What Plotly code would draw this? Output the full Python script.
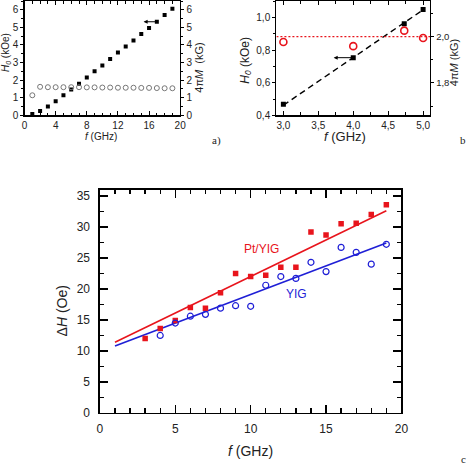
import plotly.graph_objects as go

# ---------------- data ----------------
# panel a
fa = list(range(1, 20))
H0_a = [0.08, 0.25, 0.5, 0.8, 1.14, 1.47, 1.8, 2.15, 2.5, 2.84, 3.2, 3.57, 3.92, 4.26, 4.62, 4.97, 5.32, 5.7, 6.06]
M_a = [1.14, 1.62, 1.6, 1.6, 1.6, 1.6, 1.6, 1.59, 1.59, 1.58, 1.58, 1.57, 1.57, 1.57, 1.56, 1.56, 1.55, 1.54, 1.54]

# panel b
fb = [3.0, 4.0, 4.73, 5.0]
H0_b = [0.468, 0.753, 0.96, 1.048]
M_b = [1.977, 1.959, 2.026, 1.994]
fit_fb = [3.0, 5.0]
fit_H0_b = [0.462, 1.046]
mean_fb = [2.9, 5.1]
mean_M_b = [2.0, 2.0]

# panel c
fc = list(range(3, 20))
dH_ptyig = [12.0, 13.6, 14.9, 17.0, 16.9, 19.4, 22.5, 22.0, 22.2, 23.5, 23.5, 29.2, 28.7, 30.5, 30.6, 32.0, 33.6]
fc_yig = list(range(4, 20))
dH_yig = [12.5, 14.5, 15.6, 15.9, 16.9, 17.3, 17.2, 20.6, 22.0, 21.7, 24.3, 22.8, 26.7, 25.9, 24.0, 27.2]
fit_fc = [1, 19]
fit_ptyig = [11.4, 32.6]
fit_yig = [10.8, 27.4]

W = H = 474
def px(x): return x / W
def py(y): return 1 - y / H

RED = "#e8141c"
BLUE = "#1f1fd6"
FONT = "Liberation Sans, Arial, sans-serif"

fig = go.Figure()

# panel a
fig.add_trace(go.Scatter(x=fa, y=H0_a, mode="markers", xaxis="x", yaxis="y",
                         marker=dict(symbol="square", size=4, color="black")))
fig.add_trace(go.Scatter(x=fa, y=M_a, mode="markers", xaxis="x", yaxis="y2",
                         marker=dict(symbol="circle-open", size=5, color="#777777", line=dict(width=1))))

# panel b
fig.add_trace(go.Scatter(x=fit_fb, y=fit_H0_b, mode="lines", xaxis="x3", yaxis="y3",
                         line=dict(color="black", width=1.4, dash="6px,4px")))
fig.add_trace(go.Scatter(x=mean_fb, y=mean_M_b, mode="lines", xaxis="x3", yaxis="y4",
                         line=dict(color=RED, width=1.3, dash="2px,2px")))
fig.add_trace(go.Scatter(x=fb, y=H0_b, mode="markers", xaxis="x3", yaxis="y3",
                         marker=dict(symbol="square", size=5, color="black")))
fig.add_trace(go.Scatter(x=fb, y=M_b, mode="markers", xaxis="x3", yaxis="y4",
                         marker=dict(symbol="circle-open", size=7, color=RED, line=dict(width=1.6))))

# panel c
fig.add_trace(go.Scatter(x=fit_fc, y=fit_ptyig, mode="lines", xaxis="x5", yaxis="y5",
                         line=dict(color=RED, width=1.6)))
fig.add_trace(go.Scatter(x=fit_fc, y=fit_yig, mode="lines", xaxis="x5", yaxis="y5",
                         line=dict(color=BLUE, width=1.6)))
fig.add_trace(go.Scatter(x=fc, y=dH_ptyig, mode="markers", xaxis="x5", yaxis="y5",
                         marker=dict(symbol="square", size=5.5, color=RED)))
fig.add_trace(go.Scatter(x=fc_yig, y=dH_yig, mode="markers", xaxis="x5", yaxis="y5",
                         marker=dict(symbol="circle-open", size=6, color=BLUE, line=dict(width=1.2))))

base = dict(showgrid=False, zeroline=False, showline=True, linecolor="black",
            tickcolor="black", color="black")

small = dict(size=10, family=FONT, color="#222")
smallb = dict(size=9.5, family=FONT, color="#222")

fig.update_layout(
    width=W, height=H, autosize=False, showlegend=False,
    margin=dict(l=0, r=0, t=0, b=0),
    paper_bgcolor="white", plot_bgcolor="white",
    separators=", ",
    hovermode=False,
    font=dict(family=FONT, color="black"),
    # panel a
    xaxis=dict(base, domain=[px(22), px(181)], range=[0, 20], anchor="y",
               dtick=4, ticks="inside", ticklen=4, mirror="ticks", linewidth=1.2,
               minor=dict(dtick=1, ticks="inside", ticklen=2.5, tickcolor="black"),
               tickfont=small),
    yaxis=dict(base, domain=[py(116.3), 1], range=[0, 6.5], anchor="x",
               dtick=1, ticks="outside", ticklen=3, linewidth=1.2,
               minor=dict(dtick=0.5, ticks="outside", ticklen=2, tickcolor="black"),
               tickfont=small),
    yaxis2=dict(base, overlaying="y", side="right", range=[0, 6.5], anchor="x",
                dtick=1, ticks="outside", ticklen=3, linewidth=1.2,
                minor=dict(dtick=0.5, ticks="outside", ticklen=2, tickcolor="black"),
                tickfont=small),
    # panel b
    xaxis3=dict(base, domain=[px(279.3), px(436.3)], range=[2.9, 5.1], anchor="y3",
                dtick=0.5, tick0=3, tickformat=".1f", ticks="inside", ticklen=4, mirror="ticks",
                linewidth=1.2,
                minor=dict(dtick=0.25, ticks="inside", ticklen=3, tickcolor="black"),
                tickfont=small),
    yaxis3=dict(base, domain=[py(116.3), 1], range=[0.4, 1.1], anchor="x3",
                dtick=0.2, tick0=0.4, tickformat=".1f", ticks="outside", ticklen=3, linewidth=1.2,
                minor=dict(dtick=0.1, ticks="outside", ticklen=2, tickcolor="black"),
                tickfont=small),
    yaxis4=dict(base, overlaying="y3", side="right", range=[1.66, 2.154], anchor="x3",
                dtick=0.2, tick0=1.8, tickformat=".1f", ticks="outside", ticklen=3, linewidth=1.2,
                minor=dict(dtick=0.1, ticks="outside", ticklen=2, tickcolor="black"),
                tickfont=smallb, ticklabelstandoff=0),
    # panel c
    xaxis5=dict(base, domain=[px(99), px(407)], range=[0, 20], anchor="y5",
                dtick=5, ticks="inside", ticklen=8, mirror="ticks", linewidth=1.5, tickwidth=1.3,
                minor=dict(dtick=1, ticks="inside", ticklen=4.5, tickcolor="black", tickwidth=1.3),
                tickfont=dict(size=12, family=FONT, color="#222"), ticklabelstandoff=4),
    yaxis5=dict(base, domain=[py(419), py(192)], range=[0, 36], anchor="x5",
                dtick=5, ticks="inside", ticklen=8, mirror="ticks", linewidth=1.5, tickwidth=1.3,
                minor=dict(dtick=2.5, ticks="inside", ticklen=4.5, tickcolor="black", tickwidth=1.3),
                tickfont=dict(size=12, family=FONT, color="#222"), ticklabelstandoff=6),
)

def ann(text, x, y, size=11, angle=0, color="#222", family=FONT, xanchor="center"):
    fig.add_annotation(text=text, x=px(x), y=py(y), xref="paper", yref="paper",
                       showarrow=False, textangle=angle, xanchor=xanchor, yanchor="middle",
                       font=dict(size=size, color=color, family=family))

SERIF = "Liberation Serif, Times New Roman, serif"
# panel a labels
ann("<i>H</i><sub><i>0</i></sub> (kOe)", 3, 52, size=10, angle=-90)
ann("4π<i>M</i>  (kG)", 200, 68, size=11, angle=-90)
ann("<i>f</i> (GHz)", 100.5, 137.5, size=10)
ann("a)", 218, 141.5, size=11, family=SERIF)
# panel b labels
ann("<i>H</i><sub><i>0</i></sub> (kOe)", 248, 60, size=12, angle=-90)
ann("4π<i>M</i> (kG)", 461, 63, size=11, angle=-90)
ann("<i>f</i> (GHz)", 349.5, 137.5, size=13)
ann("b", 470, 141, size=11, family=SERIF)
# panel c labels
ann("Δ<i>H</i> (Oe)", 60, 315, size=14, angle=-90)
ann("<i>f</i> (GHz)", 253, 458, size=14)
ann("Pt/YIG", 264, 252, size=12, color=RED)
ann("YIG", 300, 298, size=12, color=BLUE)
ann("c", 470, 466, size=11, family=SERIF)

# arrows pointing to left axis
fig.add_annotation(x=15.3, y=5.32, xref="x", yref="y", ax=13, ay=0, axref="pixel", ayref="pixel",
                   text="", showarrow=True, arrowhead=2, arrowsize=0.8, arrowwidth=1, arrowcolor="black")
fig.add_annotation(x=3.72, y=0.753, xref="x3", yref="y3", ax=19, ay=0, axref="pixel", ayref="pixel",
                   text="", showarrow=True, arrowhead=2, arrowsize=0.8, arrowwidth=1, arrowcolor="black")

fig.write_html("out.html", config={"displayModeBar": False, "staticPlot": True},
               post_script="document.body.style.margin='0';document.body.style.overflow='hidden';")
